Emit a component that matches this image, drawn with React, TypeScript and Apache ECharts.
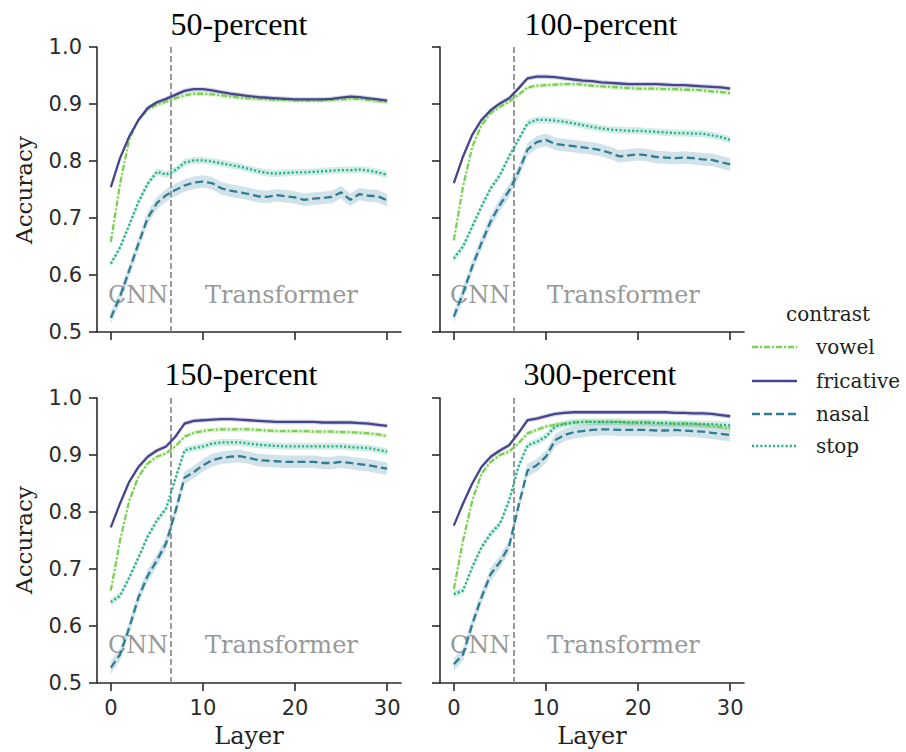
import { useEffect, useRef } from "react";
import * as echarts from "echarts";

const LAYERS = [0, 1, 2, 3, 4, 5, 6, 7, 8, 9, 10, 11, 12, 13, 14, 15, 16, 17, 18, 19, 20, 21, 22, 23, 24, 25, 26, 27, 28, 29, 30];
const CONTRASTS = ["vowel", "fricative", "nasal", "stop"];
const PANEL_TITLES = ["50-percent", "100-percent", "150-percent", "300-percent"];
const X_TICKS = [0, 10, 20, 30];
const BOUNDARY_LAYER = 6.5;

// 50-percent
const P50_VOWEL = [0.658, 0.76, 0.838, 0.872, 0.89, 0.899, 0.904, 0.91, 0.915, 0.918, 0.918, 0.917, 0.915, 0.913, 0.911, 0.91, 0.909, 0.908, 0.907, 0.907, 0.906, 0.906, 0.906, 0.906, 0.907, 0.908, 0.909, 0.909, 0.907, 0.905, 0.903];
const P50_FRICATIVE = [0.754, 0.805, 0.843, 0.872, 0.893, 0.903, 0.909, 0.916, 0.923, 0.926, 0.926, 0.924, 0.921, 0.918, 0.916, 0.914, 0.912, 0.911, 0.91, 0.909, 0.908, 0.908, 0.908, 0.908, 0.909, 0.911, 0.913, 0.912, 0.91, 0.908, 0.906];
const P50_NASAL = [0.525, 0.562, 0.608, 0.655, 0.7, 0.726, 0.74, 0.749, 0.757, 0.762, 0.764, 0.761, 0.752, 0.748, 0.745, 0.742, 0.738, 0.737, 0.74, 0.738, 0.736, 0.732, 0.734, 0.735, 0.737, 0.745, 0.732, 0.742, 0.739, 0.738, 0.731];
const P50_STOP = [0.62, 0.648, 0.688, 0.728, 0.76, 0.781, 0.776, 0.784, 0.797, 0.801, 0.801, 0.799, 0.796, 0.793, 0.79, 0.786, 0.782, 0.779, 0.778, 0.779, 0.78, 0.78, 0.781, 0.782, 0.783, 0.784, 0.784, 0.785, 0.783, 0.78, 0.776];

// 100-percent
const P100_VOWEL = [0.661, 0.755, 0.825, 0.863, 0.884, 0.895, 0.904, 0.916, 0.929, 0.932, 0.933, 0.934, 0.935, 0.935, 0.934, 0.932, 0.931, 0.93, 0.929, 0.928, 0.927, 0.927, 0.927, 0.926, 0.926, 0.925, 0.925, 0.924, 0.922, 0.921, 0.919];
const P100_FRICATIVE = [0.761, 0.808, 0.846, 0.872, 0.889, 0.901, 0.91, 0.927, 0.945, 0.948, 0.948, 0.947, 0.945, 0.943, 0.941, 0.94, 0.938, 0.937, 0.936, 0.935, 0.935, 0.935, 0.935, 0.934, 0.933, 0.933, 0.932, 0.931, 0.93, 0.929, 0.927];
const P100_NASAL = [0.527, 0.568, 0.615, 0.656, 0.694, 0.723, 0.748, 0.78, 0.82, 0.833, 0.837, 0.83, 0.828, 0.826, 0.824, 0.822, 0.819, 0.814, 0.808, 0.81, 0.812, 0.81, 0.807, 0.806, 0.805, 0.806, 0.805, 0.803, 0.802, 0.798, 0.794];
const P100_STOP = [0.629, 0.65, 0.685, 0.72, 0.752, 0.775, 0.808, 0.837, 0.866, 0.872, 0.872, 0.871, 0.869, 0.866, 0.863, 0.86, 0.857, 0.855, 0.854, 0.853, 0.853, 0.852, 0.851, 0.85, 0.849, 0.849, 0.848, 0.848, 0.845, 0.842, 0.837];

// 150-percent
const P150_VOWEL = [0.662, 0.75, 0.82, 0.862, 0.885, 0.897, 0.903, 0.915, 0.932, 0.939, 0.942, 0.944, 0.945, 0.945, 0.945, 0.945, 0.944, 0.943, 0.942, 0.942, 0.942, 0.942, 0.941, 0.941, 0.941, 0.94, 0.94, 0.939, 0.938, 0.936, 0.933];
const P150_FRICATIVE = [0.773, 0.815, 0.853, 0.879, 0.897, 0.908, 0.915, 0.932, 0.955, 0.96, 0.961, 0.962, 0.963, 0.963, 0.962, 0.961, 0.96, 0.959, 0.958, 0.958, 0.958, 0.958, 0.958, 0.957, 0.957, 0.957, 0.957, 0.956, 0.955, 0.953, 0.951];
const P150_NASAL = [0.527, 0.55, 0.597, 0.65, 0.688, 0.715, 0.745, 0.8, 0.86, 0.87, 0.882, 0.891, 0.895, 0.897, 0.898, 0.895, 0.891, 0.89, 0.889, 0.888, 0.888, 0.888, 0.888, 0.886, 0.886, 0.888, 0.886, 0.884, 0.882, 0.879, 0.876];
const P150_STOP = [0.642, 0.653, 0.685, 0.72, 0.757, 0.785, 0.806, 0.858, 0.908, 0.912, 0.915, 0.92, 0.922, 0.922, 0.922, 0.92, 0.918, 0.917, 0.916, 0.915, 0.915, 0.915, 0.915, 0.915, 0.915, 0.915, 0.914, 0.913, 0.912, 0.909, 0.906];

// 300-percent
const P300_VOWEL = [0.665, 0.75, 0.82, 0.867, 0.888, 0.9, 0.906, 0.92, 0.938, 0.944, 0.95, 0.953, 0.955, 0.957, 0.958, 0.958, 0.958, 0.958, 0.958, 0.957, 0.957, 0.957, 0.956, 0.956, 0.955, 0.955, 0.954, 0.953, 0.951, 0.949, 0.947];
const P300_FRICATIVE = [0.776, 0.815, 0.85, 0.879, 0.897, 0.908, 0.917, 0.938, 0.961, 0.964, 0.968, 0.972, 0.974, 0.975, 0.975, 0.975, 0.975, 0.975, 0.975, 0.975, 0.975, 0.975, 0.975, 0.975, 0.974, 0.974, 0.973, 0.973, 0.972, 0.97, 0.968];
const P300_NASAL = [0.533, 0.55, 0.603, 0.65, 0.691, 0.712, 0.74, 0.809, 0.873, 0.882, 0.897, 0.926, 0.935, 0.94, 0.942, 0.944, 0.945, 0.945, 0.944, 0.944, 0.944, 0.944, 0.943, 0.943, 0.944, 0.943, 0.942, 0.941, 0.939, 0.937, 0.935];
const P300_STOP = [0.656, 0.662, 0.703, 0.738, 0.762, 0.779, 0.82, 0.879, 0.917, 0.923, 0.932, 0.95, 0.954, 0.957, 0.958, 0.958, 0.958, 0.958, 0.958, 0.957, 0.957, 0.957, 0.956, 0.956, 0.955, 0.955, 0.955, 0.954, 0.954, 0.953, 0.952];

// confidence band half-widths per contrast
const BAND_HALF_WIDTH = [0.004, 0.004, 0.011, 0.006];

const PANEL_DATA = [
  [P50_VOWEL, P50_FRICATIVE, P50_NASAL, P50_STOP],
  [P100_VOWEL, P100_FRICATIVE, P100_NASAL, P100_STOP],
  [P150_VOWEL, P150_FRICATIVE, P150_NASAL, P150_STOP],
  [P300_VOWEL, P300_FRICATIVE, P300_NASAL, P300_STOP],
];

const COLORS = ["#7ad151", "#45468c", "#2f7c94", "#25ab88"];
const DASHES: any[] = [[6, 2, 2, 2], "solid", [8, 4], [2, 2.2]];

const GRIDS = [
  { left: 97, top: 47 },
  { left: 440, top: 47 },
  { left: 97, top: 398 },
  { left: 440, top: 398 },
];
const GRID_W = 304;
const GRID_H = 285;

const TITLE_POS = [
  [239, 24],
  [601, 24],
  [241, 374],
  [600, 374],
];

const AXIS_COLOR = "#2b2b2b";
const SANS = "DejaVu Sans";
const SERIF = "DejaVu Serif";

export default function App() {
  const ref = useRef<HTMLDivElement>(null);

  useEffect(() => {
    if (!ref.current) return;
    const chart = echarts.init(ref.current, null, { renderer: "svg" });

    const grid = GRIDS.map((g) => ({ left: g.left, top: g.top, width: GRID_W, height: GRID_H }));

    const xAxis = GRIDS.map((_, i) => ({
      gridIndex: i,
      type: "value",
      min: -1.5,
      max: 31.5,
      axisLine: { show: true, onZero: false, lineStyle: { color: AXIS_COLOR, width: 1.6 } },
      axisTick: { show: true, length: 8, customValues: X_TICKS, lineStyle: { color: AXIS_COLOR, width: 1.6 } },
      axisLabel: {
        show: i >= 2,
        customValues: X_TICKS,
        fontSize: 21,
        fontFamily: SANS,
        color: AXIS_COLOR,
        margin: 14,
      },
      splitLine: { show: false },
    }));

    const yAxis = GRIDS.map((_, i) => ({
      gridIndex: i,
      type: "value",
      min: 0.5,
      max: 1.0,
      interval: 0.1,
      axisLine: { show: true, onZero: false, lineStyle: { color: AXIS_COLOR, width: 1.6 } },
      axisTick: { show: true, length: 8, lineStyle: { color: AXIS_COLOR, width: 1.6 } },
      axisLabel: {
        show: i % 2 === 0,
        formatter: (v: number) => v.toFixed(1),
        fontSize: 21,
        fontFamily: SANS,
        color: AXIS_COLOR,
        margin: 15,
      },
      splitLine: { show: false },
    }));

    const series: any[] = [];
    PANEL_DATA.forEach((panel, i) => {
      panel.forEach((vals, c) => {
        const w = BAND_HALF_WIDTH[c];
        series.push({
          type: "custom",
          name: CONTRASTS[c] + " band",
          xAxisIndex: i,
          yAxisIndex: i,
          silent: true,
          z: 1,
          data: [[LAYERS[0], vals[0]]],
          renderItem: (_params: any, api: any) => {
            const pts: number[][] = [];
            for (let k = 0; k < LAYERS.length; k++) pts.push(api.coord([LAYERS[k], vals[k] + w]));
            for (let k = LAYERS.length - 1; k >= 0; k--) pts.push(api.coord([LAYERS[k], vals[k] - w]));
            return {
              type: "polygon",
              shape: { points: pts },
              style: { fill: COLORS[c], opacity: 0.22 },
            };
          },
        });
      });
      panel.forEach((vals, c) => {
        const s: any = {
          type: "line",
          name: CONTRASTS[c],
          xAxisIndex: i,
          yAxisIndex: i,
          symbol: "none",
          z: 3,
          data: LAYERS.map((l, k) => [l, vals[k]]),
          lineStyle: { color: COLORS[c], width: 2.3, type: DASHES[c] },
          itemStyle: { color: COLORS[c] },
        };
        if (c === 0) {
          s.markLine = {
            silent: true,
            symbol: ["none", "none"],
            label: { show: false },
            lineStyle: { color: "#808080", type: [6, 3], width: 1.6 },
            data: [{ xAxis: BOUNDARY_LAYER }],
            z: 2,
          };
        }
        series.push(s);
      });
    });

    const graphic: any[] = [];
    PANEL_TITLES.forEach((t, i) => {
      graphic.push({
        type: "text",
        x: TITLE_POS[i][0],
        y: TITLE_POS[i][1],
        style: {
          text: t,
          fontFamily: "Liberation Serif",
          fontSize: 32,
          fill: "#000",
          align: "center",
          verticalAlign: "middle",
        },
      });
    });
    [190, 540].forEach((cy) => {
      graphic.push({
        type: "text",
        x: 24,
        y: cy,
        rotation: Math.PI / 2,
        style: {
          text: "Accuracy",
          fontFamily: SERIF,
          fontSize: 23,
          fill: "#222",
          align: "center",
          verticalAlign: "middle",
        },
      });
    });
    [249, 592].forEach((cx) => {
      graphic.push({
        type: "text",
        x: cx,
        y: 736,
        style: {
          text: "Layer",
          fontFamily: SERIF,
          fontSize: 24,
          fill: "#222",
          align: "center",
          verticalAlign: "middle",
        },
      });
    });
    const REGION_POS = [
      [108, 205, 295],
      [450, 547, 295],
      [108, 205, 645],
      [450, 547, 645],
    ];
    REGION_POS.forEach(([cnnX, trX, cy]) => {
      graphic.push({
        type: "text",
        x: cnnX,
        y: cy,
        z: 0,
        style: { text: "CNN", fontFamily: SERIF, fontSize: 24, fill: "#999", align: "left", verticalAlign: "middle" },
      });
      graphic.push({
        type: "text",
        x: trX,
        y: cy,
        z: 0,
        style: { text: "Transformer", fontFamily: SERIF, fontSize: 24, fill: "#999", align: "left", verticalAlign: "middle" },
      });
    });
    // legend
    graphic.push({
      type: "text",
      x: 828,
      y: 314,
      style: { text: "contrast", fontFamily: SERIF, fontSize: 20, fill: "#222", align: "center", verticalAlign: "middle" },
    });
    const LEG_Y = [347, 381, 414, 446];
    CONTRASTS.forEach((c, k) => {
      graphic.push({
        type: "line",
        shape: { x1: 752, y1: LEG_Y[k], x2: 797, y2: LEG_Y[k] },
        style: {
          stroke: COLORS[k],
          lineWidth: 2.3,
          lineDash: DASHES[k] === "solid" ? null : DASHES[k],
        },
      });
      graphic.push({
        type: "text",
        x: 816,
        y: LEG_Y[k],
        style: { text: c, fontFamily: SERIF, fontSize: 20, fill: "#222", align: "left", verticalAlign: "middle" },
      });
    });

    chart.setOption({
      animation: false,
      backgroundColor: "#fff",
      grid,
      xAxis,
      yAxis,
      series,
      graphic,
    });

    return () => chart.dispose();
  }, []);

  return <div ref={ref} style={{ position: "fixed", left: 0, top: 0, width: 906, height: 752 }} />;
}
